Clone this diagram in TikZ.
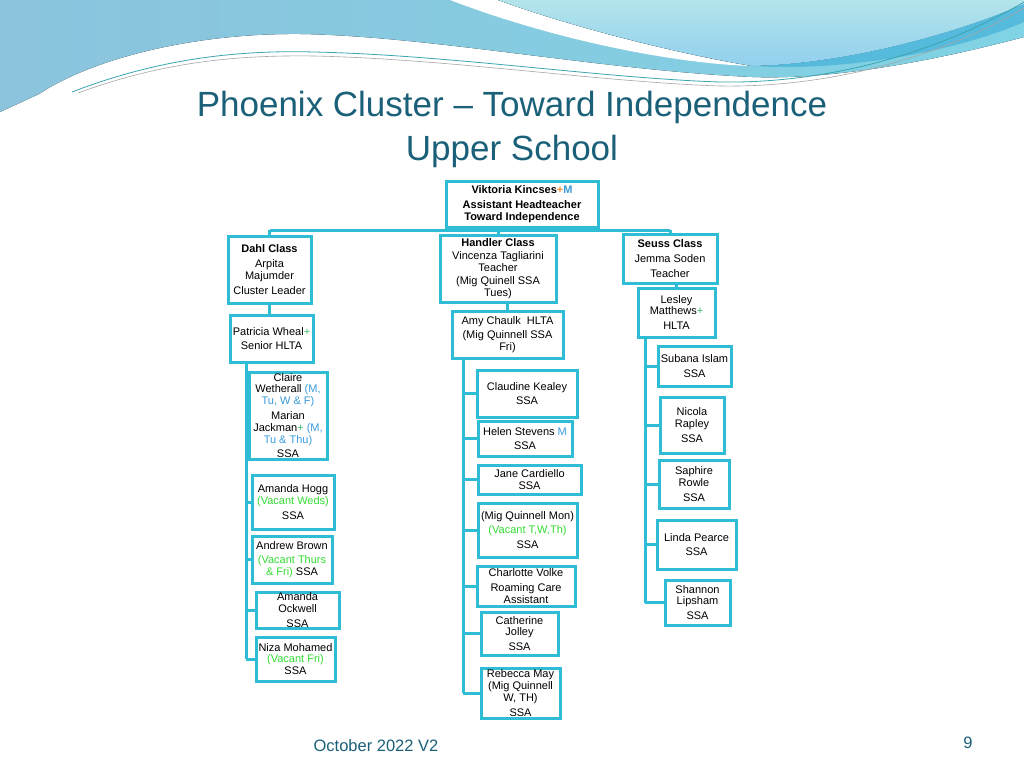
\documentclass[tikz,border=0pt]{standalone}
\usepackage{fontspec}
\setmainfont{Liberation Sans}
\definecolor{boxline}{HTML}{2EBDD5}
\definecolor{titleteal}{HTML}{1B6079}
\definecolor{daysblue}{HTML}{3A9BDC}
\definecolor{vacgreen}{HTML}{33DD33}
\definecolor{plusgreen}{HTML}{3CB96A}
\definecolor{plusorange}{HTML}{F0903A}
\definecolor{hdrA}{HTML}{8CC3DD}
\definecolor{hdrB}{HTML}{7FD3E4}
\definecolor{hdrC}{HTML}{B3E4EB}
\definecolor{hdrD}{HTML}{92D0EE}
\definecolor{hdrE}{HTML}{56BADC}
\definecolor{waveline}{HTML}{3AA5AE}
\newcommand{\pl}{\textcolor{plusgreen}{+}}
\newcommand{\dy}[1]{\textcolor{daysblue}{#1}}
\newcommand{\vac}[1]{\textcolor{vacgreen}{#1}}
\begin{document}
\begin{tikzpicture}[x=1pt, y=-1pt,
    staff/.style={draw=boxline, line width=3pt, fill=white, inner sep=0pt, align=center, font=\fontsize{11}{11.8}\selectfont},
    link/.style={boxline, line width=3pt},
    title/.style={titleteal, font=\fontsize{35}{40}\selectfont}]
    \useasboundingbox (0,0) rectangle (1024,768);
    \fill[white] (0,0) rectangle (1024,768);
    % header waves
    \fill[left color=hdrA, right color=hdrB] (0,0) -- (1024,0) -- (1024,37) .. controls (930,62) and (830,80) .. (752,77) .. controls (600,70) and (430,36) .. (300,34) .. controls (190,33) and (90,60) .. (39,94) -- (0,112) -- cycle;
    \fill[white] (450,0) .. controls (560,42) and (680,64) .. (752,66) .. controls (690,56) and (580,30) .. (498,0) -- cycle;
    \fill[top color=hdrC, bottom color=hdrD] (498,0) .. controls (580,30) and (690,56) .. (752,66) .. controls (850,64) and (960,32) .. (1024,4) -- (1024,0) -- cycle;
    \fill[hdrE] (752,66) .. controls (850,64) and (960,32) .. (1024,4) -- (1024,22) .. controls (960,50) and (850,72) .. (752,66) -- cycle;
    \draw[waveline, line width=0.8pt] (72,92) .. controls (160,58) and (240,50) .. (314,52) .. controls (450,55) and (600,78) .. (720,82) .. controls (850,84) and (960,40) .. (1024,2);
    \draw[gray!70, line width=0.6pt] (78,93) .. controls (165,61) and (240,55) .. (314,56) .. controls (450,59) and (600,82) .. (720,86) .. controls (850,88) and (960,46) .. (1024,8);
    \node[title] (ttl1) at (512,107) {Phoenix Cluster – Toward Independence};
    \node[title] (ttl2) at (512,151) {Upper School};
    % head
    \node[staff, minimum width=152, minimum height=46, font=\bfseries\fontsize{11}{11.8}\selectfont] (viktoria) at (522,204) {Viktoria Kincses\textcolor{plusorange}{+}\textcolor{daysblue}{M}\\[3pt]Assistant Headteacher\\Toward Independence};
    % classes
    \node[staff, minimum width=83, minimum height=67] (dahl) at (269.5,269.5) {\textbf{Dahl Class}\\[3pt]Arpita\\Majumder\\[3pt]Cluster Leader};
    \node[staff, minimum width=116, minimum height=67, font=\fontsize{11}{11.5}\selectfont] (handler) at (498,268.5) {\textbf{Handler Class}\\[2pt]Vincenza Tagliarini\\Teacher\\[2pt](Mig Quinell SSA\\Tues)};
    \node[staff, minimum width=94, minimum height=49] (seuss) at (670,258.5) {\textbf{Seuss Class}\\[3pt]Jemma Soden\\[3pt]Teacher};
    % HLTAs
    \node[staff, minimum width=83, minimum height=47] (patricia) at (271.5,338.5) {Patricia Wheal\pl\\[3pt]Senior HLTA};
    \node[staff, minimum width=111, minimum height=47] (amy) at (507.5,334.5) {Amy Chaulk\ \ HLTA\\[3pt](Mig Quinnell SSA\\Fri)};
    \node[staff, minimum width=77, minimum height=49] (lesley) at (676.5,312.5) {Lesley\\Matthews\pl\\[3pt]HLTA};
    % Dahl SSAs
    \node[staff, minimum width=78, minimum height=87, font=\fontsize{11}{11.8}\selectfont] (claire) at (288,415.5) {Claire\\Wetherall \dy{(M,}\\\dy{Tu, W \& F)}\\[3pt]Marian\\Jackman\pl{} \dy{(M,}\\\dy{Tu \& Thu)}\\[3pt]SSA};
    \node[staff, minimum width=82, minimum height=54] (amandah) at (293,502) {Amanda Hogg\\\vac{(Vacant Weds)}\\[3pt]SSA};
    \node[staff, minimum width=80, minimum height=47] (andrew) at (292,559.5) {Andrew Brown\\[3pt]\vac{(Vacant Thurs}\\\vac{\& Fri)} SSA};
    \node[staff, minimum width=83, minimum height=36] (ockwell) at (297.5,610) {Amanda\\Ockwell\\[3pt]SSA};
    \node[staff, minimum width=79, minimum height=44] (niza) at (295.5,659) {Niza Mohamed\\\vac{(Vacant Fri)}\\SSA};
    % Handler SSAs
    \node[staff, minimum width=100, minimum height=47] (claudine) at (527,393.5) {Claudine Kealey\\[3pt]SSA};
    \node[staff, minimum width=94, minimum height=35] (helen) at (525,438.5) {Helen Stevens \dy{M}\\[3pt]SSA};
    \node[staff, minimum width=103, minimum height=29] (jane) at (529.5,479.5) {Jane Cardiello\\SSA};
    \node[staff, minimum width=99, minimum height=54] (migmon) at (527.5,530) {(Mig Quinnell Mon)\\[3pt]\vac{(Vacant T,W,Th)}\\[3pt]SSA};
    \node[staff, minimum width=98, minimum height=40] (charlotte) at (526,586) {Charlotte Volke\\[3pt]Roaming Care\\Assistant};
    \node[staff, minimum width=77, minimum height=43] (catherine) at (519.5,633.5) {Catherine\\Jolley\\[3pt]SSA};
    \node[staff, minimum width=79, minimum height=50] (rebecca) at (520.5,693) {Rebecca May\\(Mig Quinnell\\W, TH)\\[3pt]SSA};
    % Seuss SSAs
    \node[staff, minimum width=73, minimum height=40] (subana) at (694.5,366) {Subana Islam\\[3pt]SSA};
    \node[staff, minimum width=64, minimum height=56] (nicola) at (692,425) {Nicola\\Rapley\\[3pt]SSA};
    \node[staff, minimum width=70, minimum height=48] (saphire) at (694,484) {Saphire\\Rowle\\[3pt]SSA};
    \node[staff, minimum width=79, minimum height=49] (linda) at (696.5,544.5) {Linda Pearce\\[3pt]SSA};
    \node[staff, minimum width=65, minimum height=45] (shannon) at (697.5,602.5) {Shannon\\Lipsham\\[3pt]SSA};
    % connectors
    \coordinate (bus) at (512,230);
    \draw[link] (dahl.north |- bus) -- (seuss.north |- bus);
    \draw[link] (viktoria.south) -- (viktoria.south |- bus);
    \foreach \c in {dahl,handler,seuss}
        \draw[link] (\c.north |- bus) -- (\c.north);
    \draw[link] (dahl.south) -- (dahl.south |- patricia.north);
    \draw[link] (amy.north |- handler.south) -- (amy.north);
    \draw[link] (lesley.north |- seuss.south) -- (lesley.north);
    \coordinate (ltrunk) at (246,0);
    \coordinate (mtrunk) at (463,0);
    \coordinate (rtrunk) at (645,0);
    \draw[link] (patricia.south -| ltrunk) -- (niza.west -| ltrunk);
    \foreach \c in {claire,amandah,andrew,ockwell,niza}
        \draw[link] (\c.west -| ltrunk) -- (\c.west);
    \draw[link] (amy.south -| mtrunk) -- (rebecca.west -| mtrunk);
    \foreach \c in {claudine,helen,jane,migmon,charlotte,catherine,rebecca}
        \draw[link] (\c.west -| mtrunk) -- (\c.west);
    \draw[link] (lesley.south -| rtrunk) -- (shannon.west -| rtrunk);
    \foreach \c in {subana,nicola,saphire,linda,shannon}
        \draw[link] (\c.west -| rtrunk) -- (\c.west);
    % footer
    \node[titleteal, font=\fontsize{16.5}{20}\selectfont] (date) at (376,746) {October 2022 V2};
    \node[titleteal, font=\fontsize{16.5}{20}\selectfont] (pagenum) at (968,743) {9};
\end{tikzpicture}
\end{document}
